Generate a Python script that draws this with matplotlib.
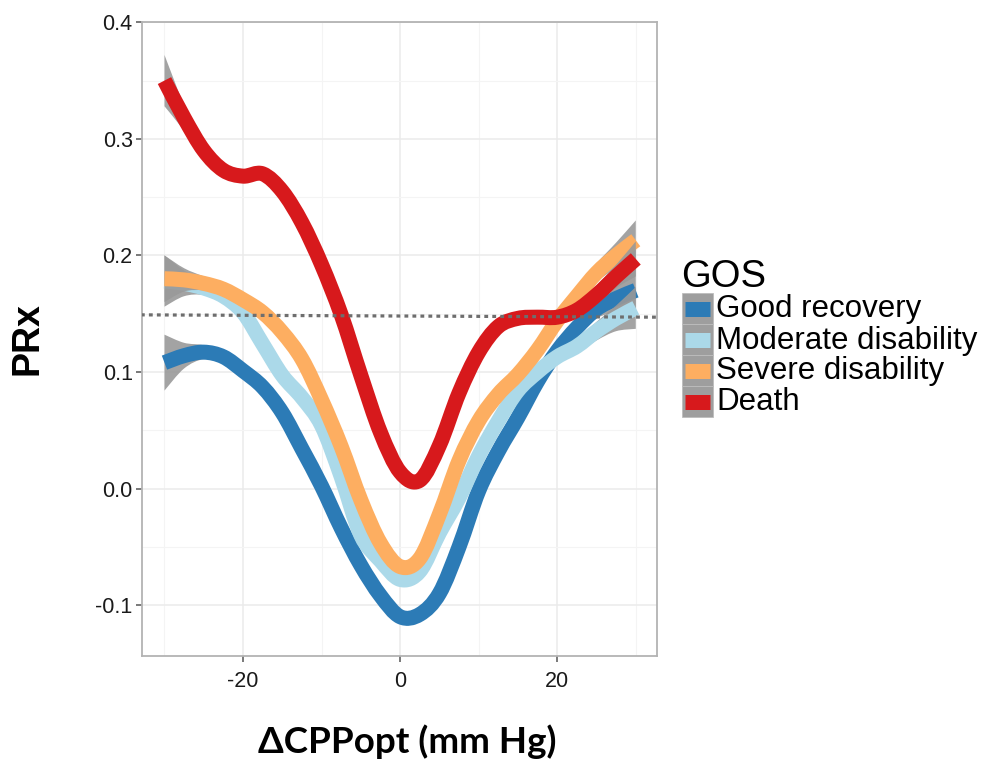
import matplotlib
matplotlib.use("Agg")
import matplotlib.pyplot as plt
from matplotlib.patches import Rectangle, PathPatch
from matplotlib.path import Path

# ---------------- data ----------------
delta_cpp = [-30, -27.5, -25, -22.5, -20, -17.5, -15, -12.5, -10, -7.5, -5, -2.5,
             0, 2.5, 5, 7.5, 10, 12.5, 15, 17.5, 20, 22.5, 25, 27.5, 30]

groups = ["Good recovery", "Moderate disability", "Severe disability", "Death"]
colors = ["#2c7bb6", "#abd9e9", "#fdae61", "#d7191c"]

prx_good = [0.108, 0.114, 0.117, 0.113, 0.101, 0.087, 0.065, 0.034, 0.002, -0.034,
            -0.066, -0.092, -0.110, -0.108, -0.090, -0.050, -0.002, 0.032, 0.061,
            0.092, 0.118, 0.138, 0.154, 0.163, 0.170]
prx_moderate = [0.178, 0.176, 0.172, 0.165, 0.151, 0.124, 0.097, 0.078, 0.054, 0.010,
                -0.040, -0.062, -0.078, -0.071, -0.038, -0.008, 0.028, 0.058, 0.084,
                0.100, 0.113, 0.122, 0.135, 0.146, 0.155]
prx_severe = [0.180, 0.179, 0.176, 0.171, 0.162, 0.151, 0.134, 0.111, 0.076, 0.036,
              -0.010, -0.047, -0.067, -0.060, -0.022, 0.024, 0.058, 0.081, 0.098,
              0.119, 0.144, 0.165, 0.185, 0.200, 0.213]
prx_death = [0.350, 0.318, 0.290, 0.273, 0.268, 0.270, 0.255, 0.228, 0.192, 0.149,
             0.097, 0.048, 0.014, 0.007, 0.037, 0.082, 0.117, 0.139, 0.146, 0.147,
             0.147, 0.153, 0.166, 0.182, 0.197]

# half-width of the confidence band
ci_good = [0.024, 0.011, 0.006, 0.005, 0.004, 0.004, 0.004, 0.004, 0.004, 0.004,
           0.004, 0.004, 0.004, 0.004, 0.004, 0.004, 0.004, 0.004, 0.004, 0.004,
           0.005, 0.006, 0.008, 0.012, 0.020]
ci_moderate = [0.022, 0.011, 0.006, 0.005, 0.004, 0.004, 0.004, 0.004, 0.004, 0.004,
               0.004, 0.004, 0.004, 0.004, 0.004, 0.004, 0.004, 0.004, 0.004, 0.004,
               0.005, 0.006, 0.008, 0.011, 0.018]
ci_severe = [0.020, 0.010, 0.006, 0.005, 0.004, 0.004, 0.004, 0.004, 0.004, 0.004,
             0.004, 0.004, 0.004, 0.004, 0.004, 0.004, 0.004, 0.004, 0.004, 0.004,
             0.005, 0.006, 0.008, 0.011, 0.017]
ci_death = [0.022, 0.011, 0.006, 0.005, 0.004, 0.004, 0.004, 0.004, 0.004, 0.004,
            0.004, 0.004, 0.004, 0.004, 0.004, 0.004, 0.004, 0.004, 0.004, 0.004,
            0.005, 0.006, 0.008, 0.010, 0.015]

threshold_x = [-33, 33]
threshold_y = [0.149, 0.147]

x_ticks = [-20, 0, 20]
x_ticklabels = ["-20", "0", "20"]
y_ticks = [-0.1, 0.0, 0.1, 0.2, 0.3, 0.4]
y_ticklabels = ["-0.1", "0.0", "0.1", "0.2", "0.3", "0.4"]

series = [prx_good, prx_moderate, prx_severe, prx_death]
bands = [ci_good, ci_moderate, ci_severe, ci_death]


def curve_through(xs, ys):
    """Smooth (Catmull-Rom as cubic Bezier) path through the given points."""
    pts = list(zip(xs, ys))
    n = len(pts)
    verts = [pts[0]]
    codes = [Path.MOVETO]
    for i in range(n - 1):
        p0 = pts[max(i - 1, 0)]
        p1 = pts[i]
        p2 = pts[i + 1]
        p3 = pts[min(i + 2, n - 1)]
        c1 = (p1[0] + (p2[0] - p0[0]) / 6, p1[1] + (p2[1] - p0[1]) / 6)
        c2 = (p2[0] - (p3[0] - p1[0]) / 6, p2[1] - (p3[1] - p1[1]) / 6)
        verts += [c1, c2, p2]
        codes += [Path.CURVE4] * 3
    return verts, codes


# ---------------- figure ----------------
W, H = 992, 777
fig = plt.figure(figsize=(W / 100, H / 100), dpi=100)
fig.patch.set_facecolor("white")

L, R, T, B = 141.7, 657.0, 22.3, 656.0
ax = fig.add_axes([L / W, 1 - B / H, (R - L) / W, (B - T) / H])
ax.set_xlim(-32.9, 32.7)
ax.set_ylim(-0.1437, 0.4)

ax.set_xticks(x_ticks)
ax.set_xticklabels(x_ticklabels)
ax.set_yticks(y_ticks)
ax.set_yticklabels(y_ticklabels)
ax.set_xticks([-30, -10, 10, 30], minor=True)
ax.set_yticks([-0.05, 0.05, 0.15, 0.25, 0.35], minor=True)
ax.grid(True, which="major", color="#ebebeb", lw=1.1)
ax.grid(True, which="minor", color="#f4f4f4", lw=0.8)
ax.set_axisbelow(True)

ax.tick_params(which="major", length=4.5, width=1.1, color="#555555",
               labelsize=15.5, labelcolor="#1a1a1a", pad=2)
ax.tick_params(axis="x", which="major", pad=6)
ax.tick_params(which="minor", length=0)
for lab in ax.get_xticklabels() + ax.get_yticklabels():
    lab.set_family("Liberation Sans")
for sp in ax.spines.values():
    sp.set_color("#b3b3b3")
    sp.set_linewidth(1.3)

for k, (vals, ci, col) in enumerate(zip(series, bands, colors)):
    lo = [v - c for v, c in zip(vals, ci)]
    hi = [v + c for v, c in zip(vals, ci)]
    uv, uc = curve_through(delta_cpp, hi)
    lv, lc = curve_through(delta_cpp[::-1], lo[::-1])
    verts = uv + lv + [uv[0]]
    codes = uc + [Path.LINETO] + lc[1:] + [Path.CLOSEPOLY]
    ax.add_patch(PathPatch(Path(verts, codes), facecolor="#999999", alpha=0.9,
                           lw=0, zorder=2 + 2 * k))
    mv, mc = curve_through(delta_cpp, vals)
    ax.add_patch(PathPatch(Path(mv, mc), fill=False, edgecolor=col, lw=10.8,
                           capstyle="butt", joinstyle="round", zorder=3 + 2 * k))

ax.plot(threshold_x, threshold_y, color="#6e6e6e", lw=2.3, dashes=(1.2, 1.3),
        dash_capstyle="butt", zorder=20)

fig.text(27 / W, 1 - 339 / H, "PRx", rotation=90, fontsize=27, fontweight="bold",
         family="Liberation Sans", ha="center", va="center")
fig.text(407 / W, 1 - 742 / H, "\u0394CPPopt (mm Hg)", fontsize=26.5,
         fontweight="bold", family="Lato", ha="center", va="center")

# ---------------- legend (drawn in pixel space) ----------------
lax = fig.add_axes([0, 0, 1, 1])
lax.set_xlim(0, W)
lax.set_ylim(H, 0)
lax.axis("off")
lax.text(681, 287, "GOS", fontsize=27.5, family="Liberation Sans",
         ha="left", va="baseline")
row_h = 31
top = 293
for i, (name, col) in enumerate(zip(groups, colors)):
    y0 = top + i * row_h
    lax.add_patch(Rectangle((682, y0), 31, row_h, facecolor="#9e9e9e",
                            edgecolor="#bdbdbd", lw=0.6))
    yc = y0 + row_h / 2
    lax.plot([685, 709.5], [yc, yc], color=col, lw=10.8, solid_capstyle="butt")
    lax.text(716, yc + 1, name, fontsize=22.5, family="Liberation Sans",
             ha="left", va="center")

fig.savefig("out.png", dpi=100)
